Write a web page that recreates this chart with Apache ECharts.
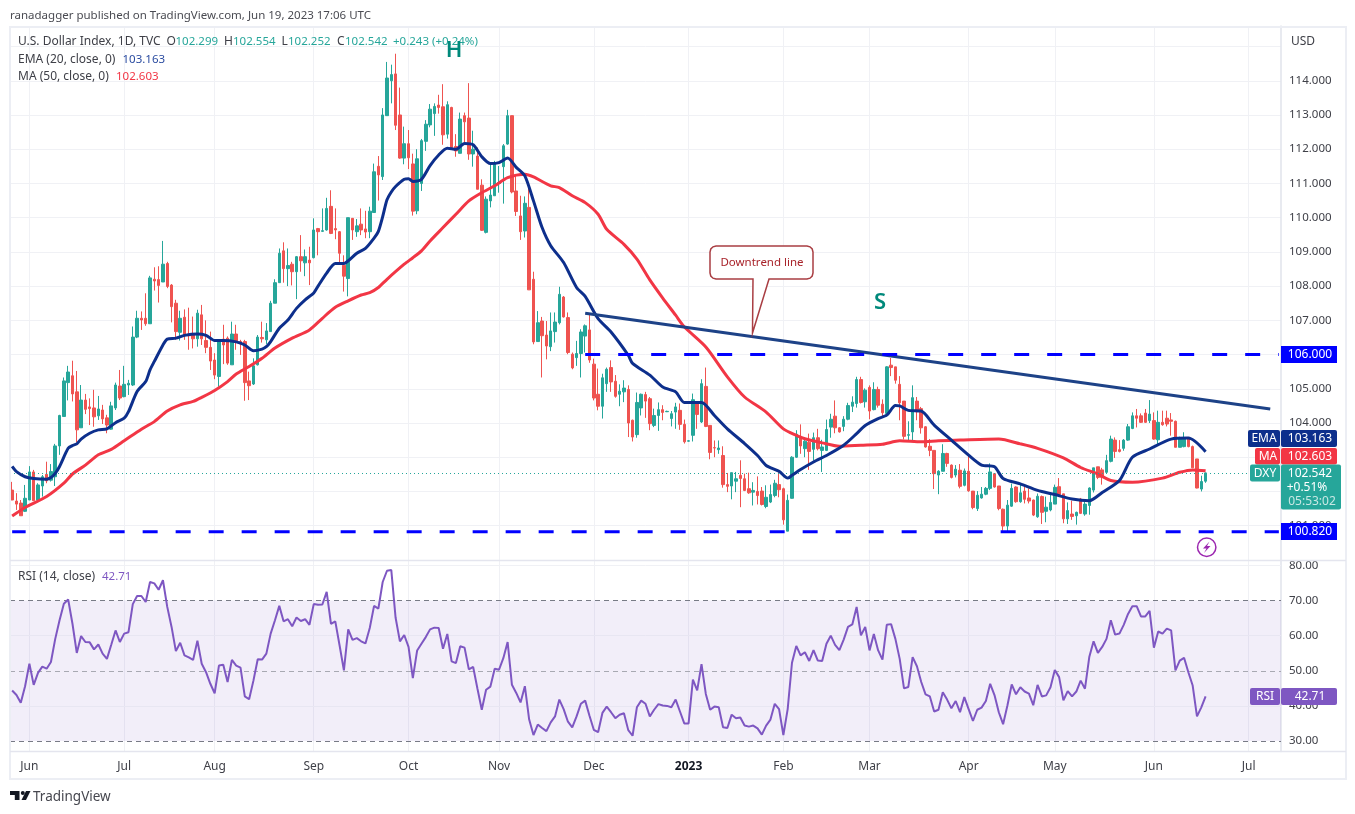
<!DOCTYPE html>
<html><head><meta charset="utf-8">
<style>html,body{margin:0;padding:0;background:#fff}#c{width:1355px;height:814px}</style>
<script src="https://cdn.jsdelivr.net/npm/echarts@6/dist/echarts.min.js"></script>
</head><body><div id="c"></div>
<script>
const opens=[102.04,101.72,101.66,101.42,101.75,102.57,101.75,102.16,102.5,102.33,
102.43,103.33,104.19,105.18,105.38,104.91,103.86,104.67,104.47,104.44,
104.21,104.38,104.15,103.82,104.44,105.08,104.77,105.11,105.11,106.51,
107.06,107.06,106.9,108.2,108.19,108.12,108.66,108.03,107.5,106.65,
107.09,106.6,106.6,106.46,107.16,106.41,106.21,105.84,105.36,106.45,
106.48,105.7,106.6,106.38,106.38,105.23,105.14,105.7,106.5,106.43,
106.67,107.5,108.1,109.03,108.51,108.64,108.42,108.86,108.68,108.76,
108.83,109.68,109.6,109.64,110.33,109.68,109.59,108.61,108.22,109.98,
109.59,109.81,109.67,109.59,110.15,111.5,111.2,112.98,114.0,114.2,
113.0,111.74,112.16,111.57,110.2,111.0,112.23,112.71,113.04,113.29,
113.24,112.44,113.22,112.08,111.88,112.98,112.91,111.86,111.8,110.95,
109.57,110.49,110.64,111.0,111.49,112.15,112.98,110.78,110.05,109.61,
110.3,108.2,106.38,106.98,106.57,106.23,106.67,106.93,107.68,107.08,
106.01,105.91,106.03,106.54,106.72,105.72,104.84,104.49,105.15,105.62,
105.22,104.84,104.91,104.98,104.08,103.66,104.44,104.83,104.71,103.93,
104.22,104.39,104.33,104.13,104.32,104.37,103.96,103.47,103.64,104.59,
104.03,105.07,103.93,103.28,103.22,103.05,102.2,102.16,102.3,102.47,
102.37,102.08,101.98,102.0,102.01,101.56,101.69,101.88,102.2,102.08,
100.84,101.8,103.0,103.61,103.25,103.44,103.23,103.57,103.2,103.2,
103.88,104.2,103.86,103.9,104.11,104.49,104.57,105.27,104.62,105.04,
104.39,104.98,104.55,104.28,105.69,105.64,105.13,104.64,103.64,103.74,
104.64,104.42,103.89,103.32,103.2,102.48,102.59,103.11,102.77,102.48,
102.62,102.18,102.59,102.01,101.5,101.81,101.92,102.09,102.52,102.16,
101.48,100.99,101.57,102.13,101.7,102.01,101.81,101.75,101.26,101.85,
101.42,101.46,101.63,102.14,101.93,101.2,101.34,101.29,101.78,101.34,
101.59,102.04,102.72,102.63,102.56,102.88,103.5,103.22,103.26,103.5,
103.84,104.21,104.21,104.29,104.07,104.07,103.51,104.02,104.14,104.09,
104.05,103.29,103.31,103.56,103.31,102.95,102.07,102.299];
const highs=[102.28,101.95,101.75,102.19,102.74,102.63,102.24,102.48,102.87,102.8,
103.39,104.24,105.33,105.67,105.82,105.52,105.11,104.85,104.72,104.97,
104.79,104.53,104.24,104.62,105.18,105.55,105.67,105.26,106.82,107.28,
107.26,107.79,108.3,108.55,108.58,109.32,108.71,108.06,107.6,107.28,
107.32,107.37,107.11,107.31,107.45,107.0,106.67,106.04,106.43,106.87,
106.53,106.96,106.87,106.43,106.43,105.5,105.89,106.57,106.96,106.92,
107.57,108.2,109.1,109.28,109.1,108.71,108.88,109.49,109.07,109.15,
109.98,109.7,110.27,110.58,110.8,110.27,109.61,108.9,110.0,109.98,
109.96,110.27,110.2,110.32,111.58,111.8,113.2,114.55,114.47,114.79,
113.8,112.66,112.56,111.87,112.0,112.3,112.85,113.32,113.34,113.59,
113.9,113.4,113.24,112.44,113.07,113.07,113.93,112.54,112.05,111.12,
110.62,111.56,111.66,111.51,112.15,113.15,112.98,111.22,110.64,110.62,
111.03,108.42,107.27,107.1,106.98,107.23,107.23,107.98,107.71,107.23,
106.06,106.4,106.74,106.88,107.2,105.88,105.59,105.44,105.62,105.83,
105.4,105.13,105.25,105.1,104.1,104.89,104.86,104.91,104.76,104.42,
104.6,104.52,104.36,104.35,104.59,104.57,104.1,103.5,104.86,104.61,
105.28,105.62,103.93,103.49,103.49,103.32,102.54,102.55,102.57,102.91,
102.52,102.55,102.27,102.44,102.13,102.18,102.2,102.34,102.63,102.11,
101.91,103.03,103.79,103.96,103.51,103.69,103.72,103.83,103.51,104.1,
104.27,104.66,103.88,104.2,104.59,104.78,105.35,105.35,105.01,105.1,
105.19,105.06,104.69,105.66,105.9,105.64,105.37,104.64,104.05,105.1,
104.76,104.47,103.91,103.53,103.2,102.62,103.38,103.13,102.79,102.77,
102.8,102.67,103.06,102.01,102.01,102.13,102.13,102.82,102.54,102.16,
101.5,101.75,102.23,102.15,102.23,102.18,102.09,101.76,101.94,101.88,
101.85,101.98,102.2,102.39,101.93,101.68,101.73,101.41,101.81,101.71,
102.12,102.69,102.72,102.69,103.07,103.63,103.58,103.5,103.53,103.97,
104.31,104.41,104.28,104.41,104.67,104.31,104.36,104.36,104.36,104.29,
104.07,103.6,103.73,103.58,103.34,102.95,102.46,102.554];
const lows=[101.75,101.46,101.29,101.4,101.75,101.73,101.68,101.85,102.24,102.29,
102.16,103.07,104.19,104.66,104.63,103.44,103.86,104.26,103.94,103.89,
104.09,103.97,103.7,103.8,104.38,104.67,104.75,104.82,105.08,106.48,
106.72,106.84,106.9,107.87,107.52,108.12,107.94,106.94,106.43,106.41,
106.43,106.14,106.18,106.23,106.28,106.04,105.55,105.28,105.06,105.72,
105.7,105.7,106.14,105.99,104.65,104.67,105.11,105.68,106.35,106.31,
106.67,107.5,108.1,108.1,108.0,108.02,107.62,108.42,108.29,108.03,
108.81,108.9,109.58,109.62,109.52,109.37,108.66,107.84,107.7,109.35,
109.44,109.49,109.4,109.4,110.15,110.5,111.1,112.97,113.34,112.56,
111.72,111.56,111.42,110.06,110.1,110.78,111.95,112.64,112.39,113.04,
112.13,112.31,112.0,111.78,111.88,112.2,111.69,111.49,110.83,109.61,
109.54,110.3,110.64,110.73,110.41,112.13,110.71,110.05,109.35,109.42,
107.89,106.3,106.38,105.33,105.86,106.1,106.35,106.88,107.08,106.01,
105.57,105.67,105.33,106.06,105.76,104.66,104.37,104.13,104.91,104.91,
104.74,104.49,104.61,103.59,103.46,103.57,104.22,104.15,103.79,103.88,
103.77,104.08,104.32,103.9,103.83,103.8,103.4,103.46,103.46,103.83,
104.0,103.88,102.94,103.0,103.1,102.11,101.98,101.77,101.98,101.54,
102.01,101.93,101.59,101.62,101.59,101.51,101.66,101.83,101.83,101.03,
100.84,101.79,102.98,103.1,103.0,102.63,102.91,103.2,102.57,103.18,
103.57,103.7,103.72,103.76,104.08,104.32,104.45,104.57,104.45,104.11,
104.37,104.45,104.18,104.18,105.37,105.15,104.08,103.52,103.5,103.45,
104.08,103.69,103.28,103.03,102.07,101.92,102.59,102.72,102.38,102.41,
102.09,102.15,101.99,101.48,101.43,101.79,101.89,102.04,102.11,101.45,
100.85,100.82,101.55,101.67,101.67,101.65,101.65,101.28,101.23,101.05,
101.1,101.42,101.63,101.88,101.07,101.05,101.17,101.03,101.34,101.29,
101.32,101.97,102.36,102.2,102.54,102.85,102.98,103.14,103.19,103.48,
103.82,103.87,104.0,104.0,104.0,103.51,103.37,103.92,103.9,103.63,
103.29,103.29,103.29,103.29,102.69,102.09,102.0,102.252];
const closes=[101.75,101.63,101.29,101.8,102.57,101.73,102.19,102.43,102.31,102.58,
103.33,104.22,105.23,105.49,104.85,103.8,104.67,104.4,104.42,104.18,
104.41,104.12,103.94,104.5,105.11,104.73,105.13,105.16,106.51,107.06,
107.01,106.9,108.24,108.15,108.02,108.64,107.99,107.4,106.67,107.06,
106.57,106.55,106.46,107.21,106.46,106.21,105.81,105.4,106.38,106.28,
105.75,106.6,106.38,106.31,105.18,105.09,105.67,106.51,106.46,106.69,
107.5,108.1,108.96,108.51,108.6,108.42,108.86,108.74,108.86,108.68,
109.64,109.59,109.62,110.27,109.54,109.64,108.96,108.29,110.0,109.64,
109.76,109.64,109.58,110.19,111.34,111.25,113.0,114.08,114.18,112.7,
111.74,112.16,111.75,110.19,111.72,112.25,112.73,113.17,113.25,113.22,
112.42,113.3,112.05,111.95,112.88,112.8,111.86,112.0,110.83,109.63,
110.54,110.66,111.58,111.02,112.1,112.98,110.75,110.18,109.59,110.42,
107.89,106.37,106.93,106.55,106.25,106.69,106.95,107.76,107.1,106.06,
105.61,106.03,106.66,106.84,105.84,104.73,104.49,105.32,105.57,105.2,
104.78,104.93,105.02,104.0,103.59,104.6,104.84,104.64,103.98,104.22,
104.39,104.31,104.34,104.27,104.47,103.96,103.45,103.48,104.68,104.25,
105.15,103.9,103.14,103.27,103.27,102.2,102.15,102.55,102.37,102.38,
102.03,101.96,102.03,101.88,101.62,101.83,101.91,102.24,102.05,101.17,
101.74,103.0,103.67,103.33,103.47,103.17,103.57,103.25,103.3,103.81,
104.11,103.86,103.74,104.11,104.51,104.61,105.27,104.6,104.96,104.35,
104.98,104.52,104.3,105.64,105.62,105.25,104.59,103.61,103.66,104.74,
104.33,103.86,103.3,103.2,102.52,102.59,103.11,102.82,102.41,102.65,
102.15,102.6,102.02,101.53,101.89,101.92,102.09,102.57,102.13,101.5,
100.99,101.6,102.09,101.7,101.96,101.77,101.72,101.31,101.86,101.39,
101.54,101.68,102.12,101.91,101.2,101.44,101.27,101.39,101.36,101.63,
102.1,102.69,102.41,102.41,102.9,103.53,103.17,103.17,103.5,103.89,
104.21,104.14,104.02,104.02,104.26,103.53,104.02,103.95,103.97,104.05,
103.29,103.56,103.53,103.31,102.69,102.1,102.29,102.542];
const rsi=[44.4,43.1,40.9,45.6,52.0,46.0,49.4,51.2,50.6,52.5,
59.1,64.4,69.1,70.3,63.4,55.1,59.9,58.2,58.1,56.1,
57.5,54.9,53.4,57.4,61.5,58.2,60.6,61.0,69.0,71.3,
71.3,69.6,75.3,74.9,73.1,75.8,68.2,62.5,55.6,58.0,
54.4,53.8,53.1,58.6,52.0,49.6,46.3,43.6,51.5,51.7,
46.8,53.1,51.5,50.9,42.7,41.9,47.2,53.3,53.2,54.9,
60.6,64.4,68.5,64.1,64.7,62.7,65.2,64.2,64.7,63.1,
69.0,68.8,68.9,72.5,63.4,64.1,57.2,50.1,61.8,58.8,
59.3,58.4,57.8,62.2,68.5,67.7,75.3,78.5,78.7,65.1,
58.4,60.2,56.8,47.9,55.8,57.7,59.6,61.8,62.3,62.2,
56.3,60.5,52.7,52.2,57.0,56.6,50.4,51.1,44.9,38.9,
44.6,45.5,50.6,50.3,53.6,58.2,46.0,43.7,41.0,45.6,
36.1,31.7,34.7,33.7,32.8,35.3,37.0,41.8,39.1,35.5,
33.9,37.0,40.6,41.5,37.2,33.2,32.5,38.0,39.8,38.2,
36.5,37.5,37.9,33.1,31.5,39.6,41.5,40.6,37.0,38.9,
40.5,40.1,40.0,39.6,41.8,38.4,35.0,35.0,47.5,44.4,
51.9,43.4,38.9,39.8,39.6,33.9,33.7,37.5,36.5,36.7,
34.4,34.1,34.4,33.6,31.8,34.4,36.1,40.6,39.1,31.7,
39.1,52.3,57.1,54.4,55.3,52.8,55.9,52.9,52.8,57.7,
60.0,57.4,55.9,58.9,62.5,63.2,68.2,60.1,62.5,55.8,
60.5,55.8,53.2,63.1,63.3,59.1,53.4,45.0,45.4,53.9,
51.3,46.8,43.3,42.7,38.4,38.9,43.9,41.8,39.3,41.4,
38.2,42.5,39.1,35.7,38.9,39.5,41.4,46.3,43.1,38.2,
34.8,40.1,46.1,43.3,45.3,44.1,43.5,40.2,46.0,42.7,
43.0,45.3,50.2,48.2,41.6,44.2,42.7,44.1,47.2,44.9,
53.9,58.4,55.1,56.8,59.1,64.4,60.3,60.6,63.1,66.2,
68.4,68.4,65.5,65.5,67.1,56.6,61.2,60.6,62.0,61.5,
50.1,52.9,53.7,49.6,45.8,37.0,39.6,42.71];
const emaPts=[[0,102.73],[1,102.58],[3,102.43],[5,102.38],[8,102.36],[9,102.41],[10,102.53],[11,102.73],[13,103.26],[14,103.34],[15,103.39],[16,103.53],[18,103.7],[20,103.8],[22,103.83],[24,104.01],[26,104.14],[27,104.33],[29,104.92],[31,105.21],[32,105.55],[33,105.8],[35,106.28],[36,106.45],[38,106.48],[40,106.56],[43,106.6],[45,106.56],[47,106.41],[49,106.41],[52,106.37],[54,106.28],[56,106.11],[58,106.16],[59,106.23],[60,106.38],[62,106.77],[64,107.01],[66,107.35],[68,107.6],[70,107.8],[71,108.0],[73,108.38],[75,108.66],[77,108.66],[78,108.74],[80,108.96],[82,109.1],[84,109.4],[85,109.6],[86,110.03],[87,110.52],[88,110.75],[89,110.91],[91,111.12],[92,111.14],[93,111.06],[95,111.12],[97,111.52],[99,111.83],[101,112.03],[103,112.0],[105,112.17],[107,112.13],[109,111.78],[111,111.58],[113,111.61],[115,111.74],[117,111.47],[119,111.22],[121,110.49],[123,109.71],[125,109.18],[128,108.69],[131,107.96],[133,107.7],[136,107.05],[139,106.66],[143,105.98],[144,105.74],[148,105.4],[151,105.05],[154,104.91],[156,104.6],[160,104.6],[163,104.22],[166,103.83],[170,103.4],[173,103.05],[175,102.76],[178,102.59],[180,102.39],[181,102.47],[183,102.64],[186,102.86],[189,103.05],[193,103.35],[196,103.69],[198,103.93],[201,104.13],[203,104.23],[205,104.51],[206,104.5],[208,104.37],[211,104.35],[214,103.94],[218,103.5],[222,103.06],[225,102.77],[228,102.72],[230,102.38],[234,102.22],[238,102.03],[242,101.91],[246,101.78],[250,101.73],[253,101.97],[257,102.32],[260,103.0],[264,103.24],[269,103.53],[273,103.56],[277,103.163]];
const maPts=[[0,101.28],[3,101.53],[8,101.85],[12,102.24],[14,102.51],[17,102.77],[20,103.07],[23,103.23],[26,103.48],[30,103.82],[33,104.04],[36,104.35],[39,104.53],[42,104.63],[44,104.75],[47,104.95],[50,105.21],[52,105.43],[55,105.65],[58,105.89],[61,106.19],[65,106.48],[69,106.72],[72,107.06],[75,107.38],[78,107.57],[81,107.74],[83,107.81],[85,107.96],[87,108.2],[91,108.64],[93,108.83],[95,109.03],[97,109.32],[100,109.71],[103,110.1],[106,110.49],[109,110.73],[112,110.93],[115,111.17],[119,111.27],[121,111.19],[125,110.93],[127,110.88],[130,110.64],[133,110.44],[136,110.1],[138,109.66],[142,109.22],[145,108.79],[148,108.18],[151,107.65],[154,107.15],[156,106.81],[161,106.22],[166,105.35],[170,104.76],[175,104.32],[179,103.83],[182,103.64],[184,103.54],[188,103.42],[192,103.32],[197,103.35],[202,103.38],[206,103.48],[211,103.45],[215,103.48],[220,103.5],[229,103.53],[234,103.39],[238,103.26],[244,102.98],[248,102.7],[252,102.51],[255,102.32],[260,102.27],[267,102.39],[271,102.56],[274,102.63],[277,102.603]];
const trendPts=[[133,107.21],[292,104.41]];
const res106=[[133,106],[294,106]];
const sup100=[[0,100.82],[294,100.82]];
const tickIdx=[4,26,47,70,92,113,135,157,179,199,222,242,265,287];
const tickLabels=['Jun','Jul','Aug','Sep','Oct','Nov','Dec','2023','Feb','Mar','Apr','May','Jun','Jul'];
const priceTicksHidden=[100,115];
const rsiTicks=[30,40,50,60,70,80];
const lastClose=102.542;

const FONT='"Noto Sans"';
const TXT='#3f4048', UP='#26a69a', DN='#ef5350', GRID='#f0f1f5';
const cats=Array.from({length:295},(_,i)=>String(i));
const isTick=i=>tickIdx.includes(+i);
const candle=opens.map((o,i)=>[o,closes[i],lows[i],highs[i]]);

const T=(text,x,y,fill,size,extra)=>({type:'text',z:50,style:Object.assign({text,x,y,fill,font:(size||12)+'px '+FONT,verticalAlign:'middle',align:'left'},extra||{})});
const box=(x,y,w,h,fill,r)=>({type:'rect',z:40,shape:{x,y,width:w,height:h,r:r||0},style:{fill}});
const W='#ffffff';
const CT={align:'center'};
const calloutPts=[[716,246],[807,246],[810,246.8],[812.2,249],[813,252],[813,273],[812.2,276],[810,278.2],[807,279],[769,279],[752.5,333],[753,279],[716,279],[713,278.2],[710.8,276],[710,273],[710,252],[710.8,249],[713,246.8]];
const graphics=[
 {type:'rect',z:30,silent:true,shape:{x:10,y:27,width:1336,height:752},style:{fill:'none',stroke:'#eceef4',lineWidth:2}},
 {type:'line',z:30,shape:{x1:10,y1:560.5,x2:1346,y2:560.5},style:{stroke:'#e4e5ee',lineWidth:1.5}},
 {type:'line',z:30,shape:{x1:10,y1:751.5,x2:1346,y2:751.5},style:{stroke:'#e4e5ee',lineWidth:1.5}},
 T('ranadagger published on TradingView.com, Jun 19, 2023 17:06 UTC',10,16,'#4a4b52',11.5),
 T('USD',1291,42,'#3f4048',12),
 T('U.S. Dollar Index, 1D, TVC',18,42,TXT,12),
 T('O',166.5,42,TXT,12),T('102.299',175.5,42,UP,11.5),
 T('H',224,42,TXT,12),T('102.554',233,42,UP,11.5),
 T('L',281.5,42,TXT,12),T('102.252',288,42,UP,11.5),
 T('C',337,42,TXT,12),T('102.542',345,42,UP,11.5),
 T('+0.243',393,42,UP,11.5),T('(+0.24%)',432,42,UP,11.5),
 T('EMA (20, close, 0)',18,59.5,TXT,12),T('103.163',122.5,59.5,'#2a4ba0',11.5),
 T('MA (50, close, 0)',18,77,TXT,12),T('102.603',116,77,'#f23645',11.5),
 T('RSI (14, close)',18,577,TXT,12),T('42.71',102,577,'#7e57c2',11.5),
 T('H',454,51,'#00897b',22,{align:'center',font:'600 22px '+FONT}),
 T('S',880,303,'#00897b',22,{align:'center',font:'600 22px '+FONT}),
 {type:'polygon',z:45,shape:{points:calloutPts},style:{fill:'#ffffff',stroke:'#a93e43',lineWidth:1.5}},
 T('Downtrend line',762,263,'#a8232a',11.5,CT),
 box(1248,430,32,17,'#0d2f8c',2),box(1281,430,56,17,'#0d2f8c',2),
 T('EMA',1264,439,W,12,CT),T('103.163',1310,439,W,12,CT),
 box(1255,448,25,16.5,'#f23645',2),box(1281,448,56,16.5,'#f23645',2),
 T('MA',1268,456.5,W,12,CT),T('102.603',1310,456.5,W,12,CT),
 box(1250,464.5,30,17,UP,2),box(1281,464.5,60,45,UP,2),
 T('DXY',1265,473.5,W,12,CT),T('102.542',1310,473.5,W,12,CT),
 T('+0.51%',1307,487.5,W,12,CT),T('05:53:02',1312,501.5,'#c8e8e4',12,CT),
 box(1281,346,56,17,'#0000ff',0),T('106.000',1310,355,W,12,CT),
 box(1281,523,56,17,'#0000ff',0),T('100.820',1310,532,W,12,CT),
 box(1250,688,30,17,'#7e57c2',2),box(1281,688,56,17,'#7e57c2',2),
 T('RSI',1265,697,W,12,CT),T('42.71',1310,697,W,12,CT),
 {type:'circle',z:45,shape:{cx:1206.7,cy:547.3,r:9.2},style:{fill:'#fff',stroke:'#9c27b0',lineWidth:1.5}},
 {type:'polygon',z:46,shape:{points:[[1209.5,541.5],[1203,548.5],[1206.5,548.5],[1204,553],[1210.5,546],[1207,546]]},style:{fill:'#9c27b0'}},
 {type:'polygon',z:46,shape:{points:[[10,791],[19.5,791],[19.5,800],[14.8,800],[14.8,795],[10,795]]},style:{fill:'#131722'}},
 {type:'circle',z:46,shape:{cx:22.8,cy:793,r:2},style:{fill:'#131722'}},
 {type:'polygon',z:46,shape:{points:[[26,791],[30.5,791],[26,800],[21.5,800]]},style:{fill:'#131722'}},
 T('TradingView',33,797,'#46474f',13.5)
];
const xBase=(gi,showLabels)=>({type:'category',gridIndex:gi,data:cats,boundaryGap:true,
  axisLine:{show:false},axisTick:{show:false,alignWithLabel:true},
  axisLabel:{show:showLabels,interval:(i)=>isTick(i),color:'#3f4048',fontFamily:FONT,fontSize:12,margin:9,hideOverlap:false,
    formatter:(v)=>{const k=tickIdx.indexOf(+v);const s=k<0?'':tickLabels[k];return s==='2023'?'{b|2023}':s;},
    rich:{b:{fontWeight:'bold',color:'#131722',fontFamily:FONT,fontSize:12}}},
  splitLine:{show:true,alignWithLabel:true,interval:(i)=>isTick(i),lineStyle:{color:GRID,width:1}}});
const option={
 animation:false,backgroundColor:'#fff',
 grid:[{left:10,right:74,top:26,height:533.9},{left:10,right:74,top:561,height:190.5}],
 xAxis:[xBase(0,false),xBase(1,true)],
 yAxis:[
  {type:'value',gridIndex:0,position:'right',min:100,max:115.6,interval:1,
   axisLine:{show:true,lineStyle:{color:'#e0e3eb',width:1.5}},axisTick:{show:false},
   axisLabel:{color:'#3f4048',fontFamily:FONT,fontSize:11.5,margin:8,padding:[2,0,0,0],formatter:v=>(priceTicksHidden.includes(v)||v>115)?'':v.toFixed(3)},
   splitLine:{show:true,lineStyle:{color:GRID,width:1}}},
  {type:'value',gridIndex:1,position:'right',min:27.01,max:81.28,
   axisLine:{show:true,lineStyle:{color:'#e0e3eb',width:1.5}},axisTick:{show:false},
   axisLabel:{customValues:rsiTicks,color:'#3f4048',fontFamily:FONT,fontSize:11.5,margin:8,padding:[2,0,0,0],formatter:v=>v.toFixed(2)},
   splitLine:{show:false}}
 ],
 series:[
  {name:'DXY',type:'candlestick',xAxisIndex:0,yAxisIndex:0,data:candle,barWidth:3,z:3,
   itemStyle:{color:UP,color0:DN,borderColor:UP,borderColor0:DN,borderWidth:1},
   markLine:{silent:true,symbol:'none',label:{show:false},animation:false,
     lineStyle:{color:UP,type:[1,3],width:1},data:[{yAxis:lastClose}]}},
  {name:'MA',type:'line',xAxisIndex:0,yAxisIndex:0,data:maPts,showSymbol:false,smooth:0.25,z:4,lineStyle:{color:'#f23645',width:3}},
  {name:'EMA',type:'line',xAxisIndex:0,yAxisIndex:0,data:emaPts,showSymbol:false,smooth:0.25,z:5,lineStyle:{color:'#0d2f8c',width:3}},
  {name:'Trend',type:'line',xAxisIndex:0,yAxisIndex:0,data:trendPts,showSymbol:false,z:6,lineStyle:{color:'#1d4287',width:3}},
  {name:'R106',type:'line',xAxisIndex:0,yAxisIndex:0,data:res106,showSymbol:false,z:6,lineStyle:{color:'#0000ff',width:3,type:[15,18]}},
  {name:'S100',type:'line',xAxisIndex:0,yAxisIndex:0,data:sup100,showSymbol:false,z:6,lineStyle:{color:'#0000ff',width:3,type:[15,18],dashOffset:1.5}},
  {name:'RSI',type:'line',xAxisIndex:1,yAxisIndex:1,data:rsi,showSymbol:false,z:5,lineStyle:{color:'#7e57c2',width:2},
   markArea:{silent:true,itemStyle:{color:'rgba(126,87,194,0.1)'},label:{show:false},data:[[{yAxis:70},{yAxis:30}]]},
   markLine:{silent:true,symbol:'none',label:{show:false},animation:false,data:[
     {yAxis:80,lineStyle:{color:GRID,type:'solid',width:1}},
     {yAxis:70,lineStyle:{color:'#787b86',type:[5,4],width:1}},
     {yAxis:60,lineStyle:{color:'#e8e6f2',type:'solid',width:1}},
     {yAxis:50,lineStyle:{color:'#a8a9b2',type:[5,4],width:1}},
     {yAxis:40,lineStyle:{color:'#e8e6f2',type:'solid',width:1}},
     {yAxis:30,lineStyle:{color:'#787b86',type:[5,4],width:1}}]}}
 ],
 graphic:{elements:graphics}
};
const chart=echarts.init(document.getElementById('c'),null,{renderer:'canvas'});
chart.setOption(option);
</script></body></html>
